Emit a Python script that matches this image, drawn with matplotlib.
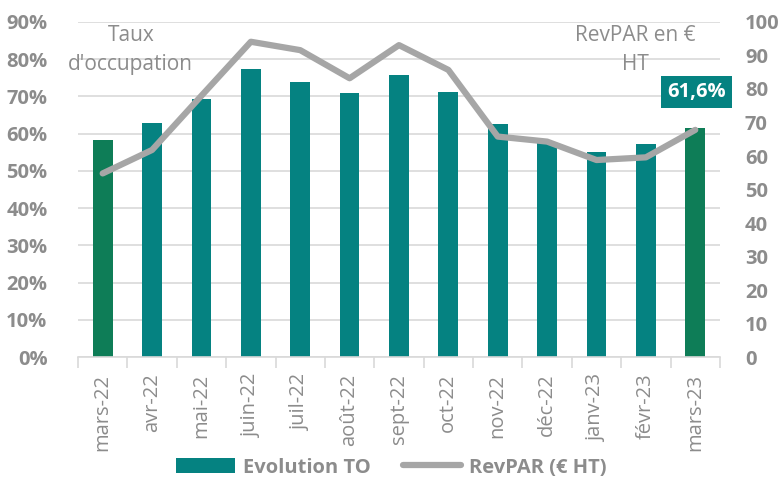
import matplotlib.pyplot as plt
import numpy as np
from matplotlib.patches import Patch
from matplotlib.lines import Line2D

plt.rcParams['font.family'] = ['Open Sans', 'DejaVu Sans']

# data
mois = ['mars-22', 'avr-22', 'mai-22', 'juin-22', 'juil-22', 'août-22', 'sept-22',
        'oct-22', 'nov-22', 'déc-22', 'janv-23', 'févr-23', 'mars-23']
taux_occupation = [58.2, 62.8, 69.4, 77.3, 73.8, 70.9, 75.8,
                   71.2, 62.6, 57.7, 55.0, 57.3, 61.6]
revpar = [54.8, 61.8, 78.0, 94.1, 91.6, 83.2, 93.1,
          85.7, 65.8, 64.3, 58.8, 59.6, 67.8]

teal = '#058281'
green = '#0E7D57'
grey_line = '#A6A6A6'
grey_txt = '#8C8C8C'

fig = plt.figure(figsize=(7.83, 4.91), dpi=100)
ax = fig.add_axes([0.0996, 0.2729, 0.8199, 0.6823])
ax2 = ax.twinx()

x = np.arange(len(mois))
colors = [teal] * len(mois)
colors[0] = green
colors[-1] = green
ax.bar(x, [v / 100 for v in taux_occupation], width=0.4, color=colors, zorder=2)

ax2.plot(x, revpar, color=grey_line, lw=4.5, solid_joinstyle='round',
         solid_capstyle='round', zorder=3)

ax.set_xlim(-0.5, len(mois) - 0.5)
ax.set_ylim(0, 0.9)
ax2.set_ylim(0, 100)
ax.set_yticks(np.arange(0, 0.91, 0.1))
ax.set_yticklabels([f'{int(round(v * 100))}%' for v in np.arange(0, 0.91, 0.1)])
ax2.set_yticks(np.arange(0, 101, 10))

ax.grid(axis='y', color='#D9D9D9', lw=1.2, zorder=0)
ax.set_axisbelow(True)

for a in (ax, ax2):
    for s in a.spines.values():
        s.set_visible(False)
ax.spines['bottom'].set_visible(True)
ax.spines['bottom'].set_color('#D9D9D9')
ax.spines['bottom'].set_linewidth(1.2)

ax.set_xticks(x)
ax.set_xticklabels(mois, rotation=90)
ax.set_xticks(np.arange(-0.5, len(mois), 1), minor=True)
ax.tick_params(axis='x', which='major', length=0, pad=12, labelsize=14.5,
               labelcolor=grey_txt)
ax.tick_params(axis='x', which='minor', length=8, color='#D9D9D9', width=1.2)
ax.tick_params(axis='y', length=0, labelsize=14.5, labelcolor=grey_txt, pad=22)
ax2.tick_params(axis='y', length=0, labelsize=14.5, labelcolor=grey_txt, pad=18)
for lab in ax.get_yticklabels() + ax2.get_yticklabels():
    lab.set_fontweight('bold')

ax.text(0.57, 0.825, "Taux\nd'occupation", ha='center', va='center',
        fontsize=15, color=grey_txt, linespacing=1.55, zorder=4)
ax.text(10.78, 0.825, "RevPAR en €\nHT", ha='center', va='center',
        fontsize=15, color=grey_txt, linespacing=1.55, zorder=4)
ax.text(12.02, 0.712, '61,6%', ha='center', va='center', fontsize=14.5,
        fontweight='bold', color='white', zorder=5,
        bbox=dict(boxstyle='square,pad=0.32', fc=teal, ec='none'))

handles = [Patch(facecolor=teal, edgecolor='none'),
           Line2D([0], [0], color=grey_line, lw=4.5, solid_capstyle='round')]
leg = fig.legend(handles, ['Evolution TO', 'RevPAR (€ HT)'], loc='lower center',
                 bbox_to_anchor=(0.5, -0.01), ncol=2, frameon=False,
                 fontsize=14.5, handlelength=2.9, handleheight=0.8,
                 columnspacing=1.6, handletextpad=0.4)
for t in leg.get_texts():
    t.set_color(grey_txt)
    t.set_fontweight('bold')

fig.savefig('out.png', dpi=100)
